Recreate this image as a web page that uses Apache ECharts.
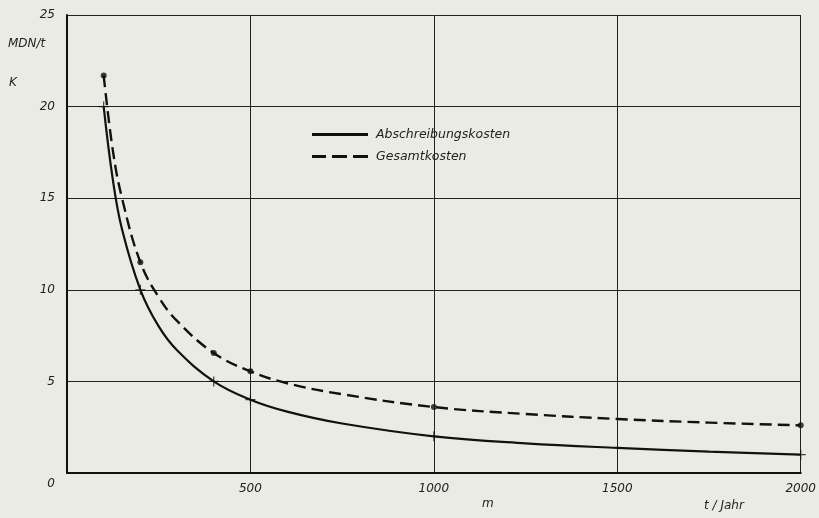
<!DOCTYPE html>
<html><head><meta charset="utf-8">
<script src="https://cdn.jsdelivr.net/npm/echarts@6/dist/echarts.min.js"></script>
<style>html,body{margin:0;padding:0;background:#ebebe6}#c{width:819px;height:518px}</style>
</head><body><div id="c"></div>
<script>
// Data
var xValues = [100,125,150,200,250,300,400,500,600,750,1000,1250,1500,1750,2000];
var abschreibung = [20,16,13.3,10,8,6.7,5,4,3.35,2.7,2,1.62,1.37,1.17,1];
var gesamt = [21.7,17.6,15,11.5,9.6,8.3,6.55,5.55,4.9,4.3,3.6,3.22,2.95,2.75,2.6];
var markerX = [100,200,400,500,1000,2000];
var xTicks = [0,500,1000,1500,2000];
var yTicks = [0,5,10,15,20,25];
var nameA = 'Abschreibungskosten';
var nameG = 'Gesamtkosten';

function pairs(ys){ return xValues.map(function(x,i){return [x, ys[i]];}); }
function marks(ys){ return xValues.map(function(x,i){return [x, ys[i]];}).filter(function(p){return markerX.indexOf(p[0])>=0;}); }

var font = 'DejaVu Sans';
var txt = {fontFamily: font, fontStyle:'italic', color:'#222', fontSize:12};
var chart = echarts.init(document.getElementById('c'));
chart.setOption({
  backgroundColor:'#ebebe6',
  animation:false,
  grid:{left:67,right:16,top:15,bottom:45},
  xAxis:{type:'value',min:0,max:2000,interval:500,
    axisLine:{show:true,lineStyle:{color:'#111',width:2}},
    axisTick:{show:false},
    splitLine:{show:true,lineStyle:{color:'#222',width:1}},
    axisLabel:Object.assign({margin:10,showMinLabel:false,
      formatter:function(v){return xTicks.indexOf(v)>=0? String(v):'';}},txt)},
  yAxis:{type:'value',min:0,max:25,interval:5,
    axisLine:{show:true,lineStyle:{color:'#111',width:2}},
    axisTick:{show:false},
    splitLine:{show:true,lineStyle:{color:'#222',width:1}},
    axisLabel:Object.assign({margin:12,
      formatter:function(v){return yTicks.indexOf(v)>=0? (v===0?'{z|0}':String(v)):'';},
      rich:{z:Object.assign({padding:[22,0,0,0]},txt)}},txt)},
  legend:{data:[
      {name:nameA,icon:'path://M0,0H56V3H0Z'},
      {name:nameG,icon:'path://M0,0H14V3H0Z M20,0H35V3H20Z M41,0H56V3H41Z'}],
    orient:'vertical',left:307,top:123,itemWidth:56,itemHeight:3,itemGap:9,
    itemStyle:{color:'#111'},
    textStyle:Object.assign({},txt,{fontSize:12.5,padding:[0,0,0,3]})},
  graphic:[
    {type:'text',left:8,top:38,style:{text:'MDN/t',font:'italic 12px "DejaVu Sans"',fill:'#222'}},
    {type:'text',left:9,top:77,style:{text:'K',font:'italic 12px "DejaVu Sans"',fill:'#222'}},
    {type:'text',left:482,top:498,style:{text:'m',font:'italic 12px "DejaVu Sans"',fill:'#222'}},
    {type:'text',left:704,top:500,style:{text:'t / Jahr',font:'italic 12px "DejaVu Sans"',fill:'#222'}}
  ],
  series:[
    {name:nameA,type:'line',data:pairs(abschreibung),smooth:0.4,symbol:'none',
      lineStyle:{color:'#111',width:2.2},itemStyle:{color:'#111'}},
    {name:nameG,type:'line',data:pairs(gesamt),smooth:0.4,symbol:'none',
      lineStyle:{color:'#111',width:2.4,type:[12,6]},itemStyle:{color:'#111'}},
    {name:'markA',type:'scatter',data:marks(abschreibung),
      symbol:'path://M4.4,0H5.6V4.4H10V5.6H5.6V10H4.4V5.6H0V4.4H4.4Z',symbolSize:10,itemStyle:{color:'#111'}},
    {name:'markG',type:'scatter',data:marks(gesamt),symbol:'circle',symbolSize:6,itemStyle:{color:'#111'}}
  ]
});
</script></body></html>
